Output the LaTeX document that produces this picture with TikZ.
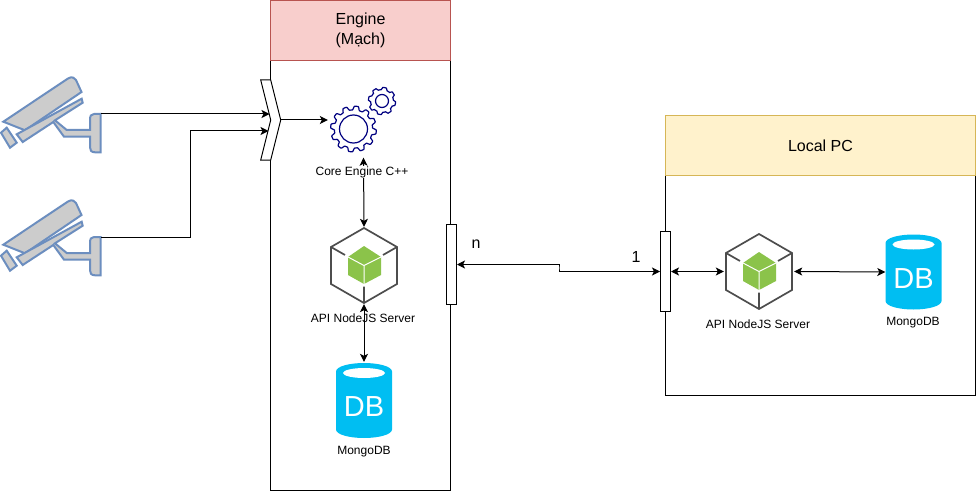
\documentclass[tikz,border=0pt]{standalone}
\usepackage{fontspec}
\setmainfont{Liberation Sans}
\usetikzlibrary{positioning,arrows.meta}
\definecolor{headred}{HTML}{F8CECC}
\definecolor{edgered}{HTML}{B85450}
\definecolor{headyellow}{HTML}{FFF2CC}
\definecolor{edgeyellow}{HTML}{D6B656}
\definecolor{camfill}{HTML}{CCCCCC}
\definecolor{camedge}{HTML}{6C8EBF}
\definecolor{hexgray}{HTML}{4D4D4D}
\definecolor{cubegreen}{HTML}{8BC34A}
\definecolor{dbblue}{HTML}{00BEF2}
\definecolor{gearblue}{HTML}{000080}
% one toothed wheel: centre x, centre y, radius, teeth, inner ring
\newcommand{\gearwheel}[5]{
  \draw[gearblue,line width=1.2pt,fill=white,domain=0:360,samples=193,variable=\t]
    plot ({#1+(#3+0.09*#3*max(-1,min(1,2*sin(#4*\t))))*cos(\t)},{#2+(#3+0.09*#3*max(-1,min(1,2*sin(#4*\t))))*sin(\t)}) -- cycle;
  \draw[gearblue,line width=1.2pt] (#1,#2) circle[radius=#5];
}
\tikzset{
  headbox/.style={draw,minimum width=#1,minimum height=60pt,inner sep=0pt,font=\fontsize{16pt}{20pt}\selectfont,align=center},
  bodybox/.style={draw=black,line width=1pt,inner sep=0pt},
  portbox/.style={draw=black,line width=1pt,fill=white,minimum width=10pt,minimum height=80pt,inner sep=0pt},
  iconbox/.style={inner sep=0pt,minimum width=#1,minimum height=77pt},
  small/.style={font=\fontsize{12pt}{14pt}\selectfont,inner sep=1pt},
  big/.style={font=\fontsize{16pt}{18pt}\selectfont,inner sep=1pt},
  link/.style={line width=1pt,>={Stealth[length=8pt,width=8pt,inset=2pt]}},
  camera/.pic={
    \draw[camedge,fill=camfill,line width=2pt] (-47.7,7.7) -- (17,-35.5) .. controls (21,-38) and (24,-36) .. (25,-34) -- (30.5,-22) -- (-26,16.3) -- cycle;
    \draw[camedge,fill=camfill,line width=2pt] (-34.3,20.3) -- (30.7,-15.3) -- (31.7,-11.3) -- (4,6.3) -- (15.7,16) -- (39,16) -- (39,6) .. controls (39,2) and (40,0) .. (43,0) -- (49.7,0) -- (49.7,38.3) -- (44,38.3) .. controls (40,38.3) and (39,36) .. (39,33.3) -- (39,22.7) -- (13,22.7) -- (2.3,8) -- (-28.3,28) -- cycle;
    \draw[camedge,fill=camfill,line width=2pt] (-50,18.7) -- (-44.3,13.7) -- (-34.3,28.7) -- (-41,33.7) -- cycle;
  },
  nodeapi/.pic={
    \fill[cubegreen] (0,-19.5) -- (17,-8.5) -- (17,9.5) -- (0,18.5) -- (-16,9.5) -- (-16,-8.5) -- cycle;
    \draw[white,line width=1pt] (-16,-8.5) -- (0,0) -- (17,-8.5) (0,0) -- (0,18.5);
    \draw[hexgray,line width=1.7pt] (0,-37.5) -- (33,-18.5) -- (33,18.5) -- (0,37.5) -- (-33,18.5) -- (-33,-18.5) -- cycle;
    \draw[hexgray,line width=1.7pt] (-33,-18.5) -- (-19,-10.5) (33,-18.5) -- (19,-10.5) (0,37.5) -- (0,21);
  },
  mongo/.pic={
    \fill[dbblue] (-28,-29) .. controls (-28,-34) and (-15,-37.5) .. (0,-37.5) .. controls (15,-37.5) and (28,-34) .. (28,-29) -- (28,29) .. controls (28,34) and (15,37.5) .. (0,37.5) .. controls (-15,37.5) and (-28,34) .. (-28,29) -- cycle;
    \fill[white] (0,-27.5) ellipse[x radius=21pt,y radius=5pt];
    \node[white,inner sep=0pt,font=\fontsize{29pt}{29pt}\selectfont] (dbmark) at (0,6.5) {DB};
  },
}
\begin{document}
\begin{tikzpicture}[x=1pt,y=-1pt]
  \useasboundingbox (0,0) rectangle (977,492);
  % engine side
  \node[bodybox,minimum width=180pt,minimum height=430pt] (engineBody) at (360.5,275.5) {};
  \node[headbox=180pt,draw=edgered,fill=headred] (engineHead) at (360.5,30.5) {Engine\\(Mạch)};
  % local side
  \node[bodybox,minimum width=310pt,minimum height=220pt] (localBody) at (820.5,285.5) {};
  \node[headbox=310pt,draw=edgeyellow,fill=headyellow] (localHead) at (820.5,145.5) {Local PC};
  % cameras
  \node[iconbox=100pt] (camA) at (51,114) {};
  \node[iconbox=100pt] (camB) at (51,237) {};
  \pic at (camA.center) {camera};
  \pic at (camB.center) {camera};
  % input gate
  \draw[line width=1pt,fill=white] (260.7,80) -- (270.7,80) -- (280.7,120) -- (270.7,160) -- (260.7,160) -- (270.7,120) -- cycle;
  \coordinate (gateTop) at (269.5,114);
  \coordinate (gateBot) at (268.5,131);
  \coordinate (gateOut) at (280.7,120);
  \coordinate (bendB) at (190.5,131);
  % icons
  \node[iconbox=71pt] (coreEngine) at (363.5,119) {};
  \gearwheel{382}{101}{12.5}{8}{6.5}
  \gearwheel{353.5}{129}{21}{12}{14}
  \node[iconbox=70pt] (apiEngine) at (364,265.5) {};
  \pic at (apiEngine.center) {nodeapi};
  \node[iconbox=56pt] (dbEngine) at (364,400.5) {};
  \pic at (dbEngine.center) {mongo};
  \node[iconbox=70pt] (apiLocal) at (759,271.5) {};
  \pic at (apiLocal.center) {nodeapi};
  \node[iconbox=56pt] (dbLocal) at (913.5,272) {};
  \pic at (dbLocal.center) {mongo};
  % ports
  \node[portbox] (portEngine) at (451.5,264.5) {};
  \node[portbox] (portLocal) at (665.5,271.5) {};
  \coordinate (midLink) at (559,268);
  % links
  \draw[link,->] (camA.east) -- (gateTop);
  \draw[link,->] (camB.east) -| (bendB) -- (gateBot);
  \draw[link,->] (gateOut) -- (coreEngine.west |- gateOut);
  \draw[link,<->] (coreEngine.south) -- (apiEngine.north);
  \node[small,fill=white,inner sep=0pt] (coreLabel) at (362,172) {Core Engine C++};
  \node[small] (apiEngineLabel) at (363,318) {API NodeJS Server};
  \draw[link,<->] (apiEngine.south) -- (dbEngine.north);
  \node[small] (dbEngineLabel) at (364,452) {MongoDB};
  \draw[link,<->] (portEngine.east) -| (midLink) |- (portLocal.west);
  \draw[link,<->] (portLocal.east) -- (apiLocal.west);
  \draw[link,<->] (apiLocal.east) -- (dbLocal.west);
  \node[small] (apiLocalLabel) at (758,324) {API NodeJS Server};
  \node[small] (dbLocalLabel) at (913,323) {MongoDB};
  \node[big] (manyLabel) at (476,244) {n};
  \node[big] (oneLabel) at (636,257) {1};
\end{tikzpicture}
\end{document}
